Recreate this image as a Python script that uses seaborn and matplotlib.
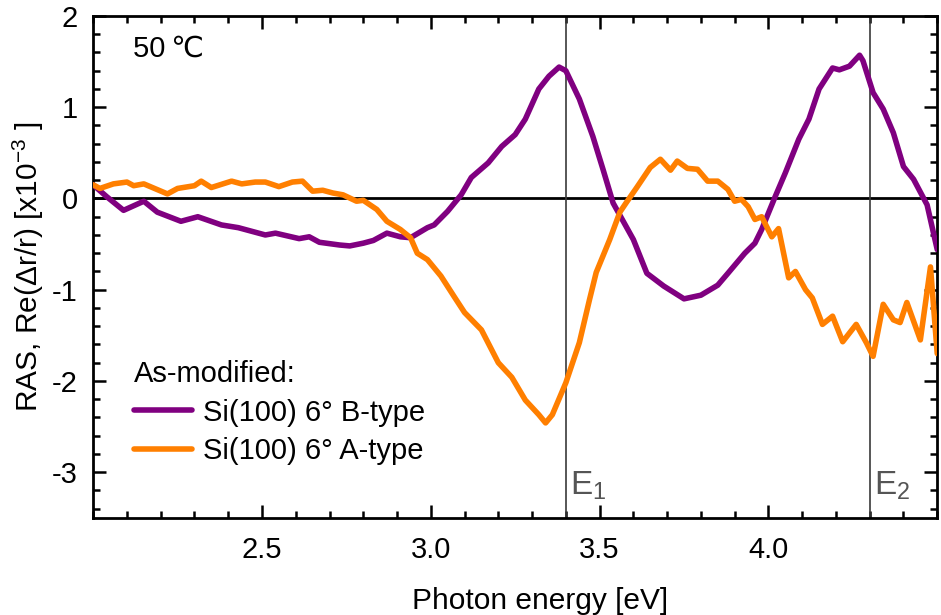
import numpy as np
import pandas as pd
import matplotlib

matplotlib.use("Agg")
import matplotlib.pyplot as plt
import seaborn as sns
from matplotlib.ticker import MultipleLocator

# RAS spectra
b_energy = [2.00, 2.04, 2.09, 2.15, 2.19, 2.26, 2.31, 2.38, 2.43, 2.51, 2.54, 2.61, 2.64, 2.67,
            2.73, 2.76, 2.80, 2.83, 2.87, 2.91, 2.94, 2.99, 3.01, 3.05, 3.09, 3.12, 3.17, 3.21,
            3.25, 3.28, 3.32, 3.35, 3.38, 3.40, 3.44, 3.48, 3.51, 3.54, 3.57, 3.60, 3.64, 3.69,
            3.75, 3.80, 3.85, 3.88, 3.93, 3.96, 3.98, 4.02, 4.05, 4.09, 4.12, 4.15, 4.19, 4.21,
            4.24, 4.27, 4.28, 4.31, 4.34, 4.37, 4.40, 4.43, 4.47, 4.50]
b_ras = [0.15, 0.02, -0.13, -0.03, -0.15, -0.25, -0.20, -0.29, -0.32, -0.40, -0.38, -0.44, -0.42, -0.48,
         -0.51, -0.52, -0.49, -0.46, -0.38, -0.42, -0.43, -0.32, -0.29, -0.14, 0.04, 0.23, 0.39, 0.57,
         0.70, 0.87, 1.20, 1.34, 1.44, 1.40, 1.09, 0.68, 0.32, -0.05, -0.25, -0.45, -0.82, -0.96,
         -1.10, -1.06, -0.95, -0.82, -0.60, -0.49, -0.34, 0.02, 0.28, 0.65, 0.87, 1.20, 1.43, 1.41,
         1.45, 1.57, 1.51, 1.16, 0.98, 0.72, 0.35, 0.21, -0.07, -0.56]

a_energy = [2.00, 2.02, 2.06, 2.10, 2.12, 2.15, 2.22, 2.25, 2.30, 2.32, 2.35, 2.41, 2.44, 2.48,
            2.51, 2.55, 2.59, 2.62, 2.65, 2.68, 2.71, 2.74, 2.78, 2.80, 2.84, 2.87, 2.91, 2.94,
            2.96, 2.99, 3.03, 3.07, 3.10, 3.15, 3.20, 3.24, 3.28, 3.32, 3.34, 3.36, 3.40, 3.44,
            3.47, 3.49, 3.53, 3.56, 3.58, 3.61, 3.65, 3.68, 3.71, 3.73, 3.76, 3.79, 3.82, 3.85,
            3.88, 3.90, 3.92, 3.94, 3.96, 3.98, 4.01, 4.03, 4.06, 4.08, 4.11, 4.13, 4.16, 4.19,
            4.22, 4.26, 4.29, 4.31, 4.34, 4.37, 4.39, 4.41, 4.45, 4.48, 4.50]
a_ras = [0.15, 0.11, 0.16, 0.18, 0.14, 0.16, 0.05, 0.11, 0.14, 0.19, 0.12, 0.19, 0.16, 0.18,
         0.18, 0.13, 0.18, 0.19, 0.08, 0.09, 0.06, 0.04, -0.03, -0.02, -0.12, -0.25, -0.34, -0.43,
         -0.60, -0.67, -0.85, -1.08, -1.25, -1.44, -1.80, -1.96, -2.21, -2.37, -2.46, -2.37, -2.02, -1.58,
         -1.11, -0.81, -0.45, -0.15, -0.04, 0.12, 0.34, 0.43, 0.31, 0.41, 0.33, 0.32, 0.19, 0.19,
         0.10, -0.03, -0.01, -0.09, -0.23, -0.20, -0.42, -0.33, -0.87, -0.80, -1.00, -1.09, -1.38, -1.29,
         -1.57, -1.38, -1.58, -1.73, -1.16, -1.33, -1.36, -1.14, -1.55, -0.75, -1.70]

labels = ["Si(100) 6° B-type", "Si(100) 6° A-type"]
colors = ["#800080", "#ff7f00"]
transitions = {"E$_1$": 3.4, "E$_2$": 4.3}

df = pd.concat([
    pd.DataFrame({"energy": b_energy, "ras": b_ras, "sample": labels[0]}),
    pd.DataFrame({"energy": a_energy, "ras": a_ras, "sample": labels[1]}),
])

sns.set_style("ticks")
plt.rcParams["font.family"] = ["Liberation Sans", "DejaVu Sans"]
plt.rcParams["mathtext.fontset"] = "custom"
plt.rcParams["mathtext.rm"] = "Liberation Sans"
plt.rcParams["mathtext.it"] = "Liberation Sans:italic"
plt.rcParams["font.size"] = 21
for key in ["text.color", "axes.labelcolor", "xtick.color", "ytick.color", "axes.edgecolor"]:
    plt.rcParams[key] = "black"

fig = plt.figure(figsize=(9.41, 6.15), dpi=100)
ax = fig.add_axes([0.099, 0.158, 0.897, 0.816])

ax.axhline(0, color="black", lw=2, zorder=1)
for name, e in transitions.items():
    ax.axvline(e, color="#3a3a3a", lw=1.2, zorder=1)
    ax.text(e + 0.012, -3.24, name, color="#555555", fontsize=24, ha="left", va="baseline")

sns.lineplot(data=df, x="energy", y="ras", hue="sample", palette=dict(zip(labels, colors)),
             estimator=None, lw=4, ax=ax, legend=False, zorder=3)

ax.set_xlim(2.0, 4.5)
ax.set_ylim(-3.5, 2.0)
ax.set_xticks([2.5, 3.0, 3.5, 4.0])
ax.xaxis.set_minor_locator(MultipleLocator(0.1))
ax.yaxis.set_major_locator(MultipleLocator(1))
ax.yaxis.set_minor_locator(MultipleLocator(0.2))
ax.set_yticklabels([f"{int(v)}" for v in ax.get_yticks()])
ax.tick_params(which="both", direction="in", top=True, right=True, width=1.8, labelsize=21)
ax.tick_params(which="major", length=9.5)
ax.tick_params(which="minor", length=5)
ax.tick_params(axis="y", pad=11)
ax.tick_params(axis="x", pad=13)
for s in ax.spines.values():
    s.set_linewidth(2)

ax.set_xlabel("Photon energy [eV]", fontsize=21.5, labelpad=17, x=0.53)
ax.set_ylabel("RAS, Re(\u0394r/r) [x10$^{-3}$ ]", fontsize=21.5, labelpad=4)

ax.text(0.047, 0.935, "50\u2009\u2103", transform=ax.transAxes, fontsize=21, va="center", ha="left")

handles = [plt.Line2D([], [], color=c, lw=4) for c in colors]
leg = ax.legend(handles, labels, title="As-modified:", loc="lower left",
                bbox_to_anchor=(0.031, 0.076), frameon=False, fontsize=21, title_fontsize=21,
                handlelength=2.0, handletextpad=0.36, labelspacing=0.36, alignment="left",
                borderpad=0)

fig.savefig("out.png", dpi=100)
